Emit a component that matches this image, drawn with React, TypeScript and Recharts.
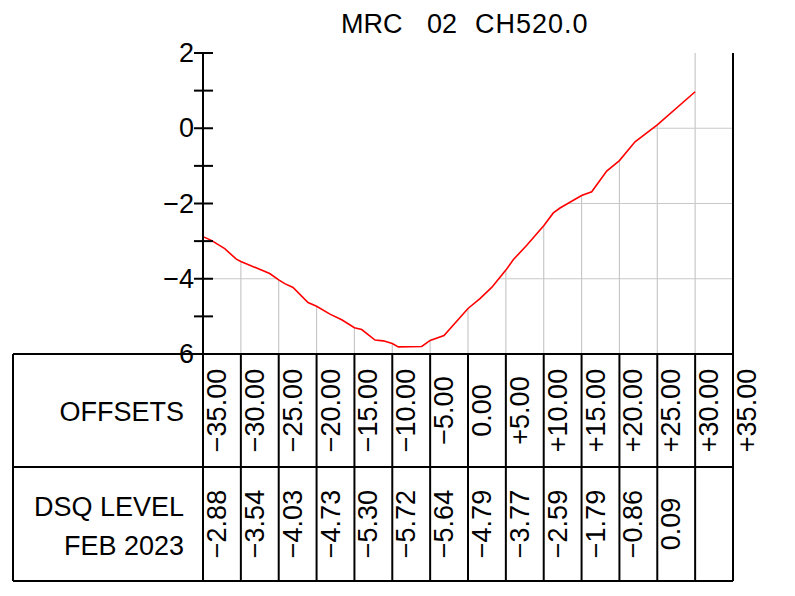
import React from 'react';
import { ComposedChart, Line, XAxis, YAxis } from 'recharts';

// ---- data ----
const titleParts = ['MRC', '02', 'CH520.0'];

const offsetTicks = [-35, -30, -25, -20, -15, -10, -5, 0, 5, 10, 15, 20, 25, 30, 35];
const offsetLabels = ['−35.00', '−30.00', '−25.00', '−20.00', '−15.00', '−10.00', '−5.00', '0.00', '+5.00', '+10.00', '+15.00', '+20.00', '+25.00', '+30.00', '+35.00'];
const dsqLabels = ['−2.88', '−3.54', '−4.03', '−4.73', '−5.30', '−5.72', '−5.64', '−4.79', '−3.77', '−2.59', '−1.79', '−0.86', '0.09'];

const profileOffsets = [-35, -33.9, -32.13, -30.6, -30, -26.19, -25, -24.2, -23.11, -21.13, -20, -18.23, -16.68, -15, -14.04, -12.28, -11.19, -10, -9.2, -6.11, -5, -3.17, 0, 1.58, 3.13, 5, 6.0, 7.76, 10, 11.27, 12.15, 15, 16.34, 18.32, 20, 22.06, 25, 30];
const profileLevels = [-2.88, -2.98, -3.2, -3.48, -3.54, -3.86, -4.03, -4.13, -4.23, -4.63, -4.73, -4.94, -5.09, -5.3, -5.35, -5.63, -5.65, -5.72, -5.81, -5.8, -5.64, -5.51, -4.79, -4.53, -4.23, -3.77, -3.49, -3.11, -2.59, -2.25, -2.12, -1.79, -1.69, -1.14, -0.86, -0.36, 0.09, 0.97];

const levelTicks = [-6, -5, -4, -3, -2, -1, 0, 1, 2];
const levelLabelValues = [-6, -4, -2, 0, 2];
const gridOffsets = [-30, -25, -20, -15, -10, -5, 0, 5, 10, 15, 20, 25];
const gridLevels = [0, -2, -4];
const profileEndOffset = 30;
const levelMin = -6;
const levelMax = 2;
const offsetMin = -35;
const offsetMax = 35;

const rowHeaders = ['OFFSETS', 'DSQ LEVEL', 'FEB 2023'];

// ---- layout ----
const W = 795;
const H = 596;
const PLOT_LEFT = 203;
const PLOT_RIGHT = 733;
const PLOT_TOP = 53;
const PLOT_BOTTOM = 354;
const ROW1_H = 113;
const ROW2_H = 114;
const TABLE_LEFT = 13;
const FONT = "'Liberation Sans', Arial, Helvetica, sans-serif";
const FS = 27;
const GRID = '#c8c8c8';

const data = profileOffsets.map((x, i) => ({ x, v: profileLevels[i] }));

// profile level at a given offset (linear between surveyed points)
const levelAt = (x: number) => {
  for (let i = 0; i < profileOffsets.length - 1; i++) {
    const a = profileOffsets[i];
    const b = profileOffsets[i + 1];
    if (x >= a && x <= b) {
      const t = (x - a) / (b - a);
      return profileLevels[i] + t * (profileLevels[i + 1] - profileLevels[i]);
    }
  }
  return profileLevels[profileLevels.length - 1];
};

// horizontal grid segments lying below the ground profile
const belowSegments = (L: number) => {
  const segs: [number, number][] = [];
  let start: number | null = profileLevels[0] > L ? profileOffsets[0] : null;
  for (let i = 0; i < profileOffsets.length - 1; i++) {
    const y0 = profileLevels[i];
    const y1 = profileLevels[i + 1];
    if ((y0 > L) !== (y1 > L)) {
      const t = (L - y0) / (y1 - y0);
      const xc = profileOffsets[i] + t * (profileOffsets[i + 1] - profileOffsets[i]);
      if (start === null) start = xc;
      else {
        segs.push([start, xc]);
        start = null;
      }
    }
  }
  if (start !== null) segs.push([start, offsetMax]);
  else segs.push([profileEndOffset, offsetMax]);
  return segs;
};

const gridSeries: { x: number; g: number }[][] = [
  ...gridOffsets.map((o) => [
    { x: o, g: levelMin },
    { x: o, g: levelAt(o) },
  ]),
  [
    { x: profileEndOffset, g: levelMin },
    { x: profileEndOffset, g: levelMax },
  ],
  ...gridLevels.flatMap((L) =>
    belowSegments(L).map(([a, b]) => [
      { x: a, g: L },
      { x: b, g: L },
    ])
  ),
];

const fmt = (v: number) => (v < 0 ? '−' + Math.abs(v) : String(v));

const LeftTick = (props: any) => {
  const { x, y, payload } = props;
  const v = payload.value;
  return (
    <g>
      <line x1={x - 9} x2={x + 10} y1={y} y2={y} stroke="#000" strokeWidth={2} />
      {levelLabelValues.includes(v) && (
        <text x={x - 9} y={y} textAnchor="end" dominantBaseline="central" fontFamily={FONT} fontSize={FS} fill="#000">
          {fmt(v)}
        </text>
      )}
    </g>
  );
};

const RightTick = (props: any) => {
  const { x, y, payload } = props;
  const v = payload.value;
  return (
    <g>
      <line x1={x - 10} x2={x + 8} y1={y} y2={y} stroke="#000" strokeWidth={2} />
      {levelLabelValues.includes(v) && (
        <text x={x + 8} y={y} textAnchor="start" dominantBaseline="central" fontFamily={FONT} fontSize={FS} fill="#000">
          {fmt(v)}
        </text>
      )}
    </g>
  );
};

const TableTick = (props: any) => {
  const { x, y, index } = props;
  const midY = y + ROW1_H;
  const botY = y + ROW1_H + ROW2_H;
  const lx = x + 14;
  const oy = y + ROW1_H / 2;
  const dy = midY + ROW2_H / 2;
  const dsq = dsqLabels[index];
  return (
    <g>
      {index === 0 && (
        <g>
          <line x1={TABLE_LEFT} x2={PLOT_RIGHT} y1={y} y2={y} stroke="#000" strokeWidth={2} />
          <line x1={TABLE_LEFT} x2={PLOT_RIGHT} y1={midY} y2={midY} stroke="#000" strokeWidth={2} />
          <line x1={TABLE_LEFT} x2={PLOT_RIGHT} y1={botY} y2={botY} stroke="#000" strokeWidth={2} />
          <line x1={TABLE_LEFT} x2={TABLE_LEFT} y1={y} y2={botY} stroke="#000" strokeWidth={2} />
          <text x={184} y={y + 67} textAnchor="end" fontFamily={FONT} fontSize={FS} fill="#000">{rowHeaders[0]}</text>
          <text x={184} y={midY + 49} textAnchor="end" fontFamily={FONT} fontSize={FS} fill="#000">{rowHeaders[1]}</text>
          <text x={184} y={midY + 88} textAnchor="end" fontFamily={FONT} fontSize={FS} fill="#000">{rowHeaders[2]}</text>
        </g>
      )}
      <line x1={x} x2={x} y1={y} y2={botY} stroke="#000" strokeWidth={2} />
      <text x={lx} y={oy} transform={`rotate(-90 ${lx} ${oy})`} textAnchor="middle" dominantBaseline="central" fontFamily={FONT} fontSize={FS} fill="#000">
        {offsetLabels[index]}
      </text>
      {dsq && (
        <text x={lx} y={dy} transform={`rotate(-90 ${lx} ${dy})`} textAnchor="middle" dominantBaseline="central" fontFamily={FONT} fontSize={FS} fill="#000">
          {dsq}
        </text>
      )}
    </g>
  );
};

export default function App() {
  return (
    <div style={{ position: 'absolute', left: 0, top: 0, width: W, height: H, background: '#fff' }}>
      <ComposedChart width={W} height={H} data={data} margin={{ top: PLOT_TOP, right: 0, bottom: 0, left: 0 }}>
        <XAxis
          dataKey="x"
          type="number"
          domain={[offsetMin, offsetMax]}
          ticks={offsetTicks}
          interval={0}
          height={H - PLOT_BOTTOM}
          axisLine={false}
          tickLine={false}
          tickSize={0}
          tickMargin={0}
          tick={<TableTick />}
          allowDuplicatedCategory={false}
        />
        <YAxis
          yAxisId={0}
          type="number"
          domain={[levelMin, levelMax]}
          ticks={levelTicks}
          interval={0}
          width={PLOT_LEFT}
          axisLine={{ stroke: '#000', strokeWidth: 2 }}
          tickLine={false}
          tickSize={0}
          tickMargin={0}
          tick={<LeftTick />}
        />
        <YAxis
          yAxisId="right"
          orientation="right"
          type="number"
          domain={[levelMin, levelMax]}
          ticks={levelTicks}
          interval={0}
          width={W - PLOT_RIGHT}
          axisLine={{ stroke: '#000', strokeWidth: 2 }}
          tickLine={false}
          tickSize={0}
          tickMargin={0}
          tick={<RightTick />}
        />
        {gridSeries.map((seg, k) => (
          <Line
            key={'grid' + k}
            yAxisId={0}
            data={seg}
            dataKey="g"
            type="linear"
            stroke={GRID}
            strokeWidth={1.2}
            dot={false}
            activeDot={false}
            isAnimationActive={false}
          />
        ))}
        <Line yAxisId={0} dataKey="v" type="linear" stroke="#ff0000" strokeWidth={1.6} dot={false} activeDot={false} isAnimationActive={false} />
      </ComposedChart>
      <svg width={W} height={50} style={{ position: 'absolute', left: 0, top: 0, pointerEvents: 'none' }}>
        <text x={341} y={33} fontFamily={FONT} fontSize={27} fill="#000">{titleParts[0]}</text>
        <text x={427} y={33} fontFamily={FONT} fontSize={27} fill="#000">{titleParts[1]}</text>
        <text x={475} y={33} fontFamily={FONT} fontSize={27} fill="#000" letterSpacing={1}>{titleParts[2]}</text>
      </svg>
    </div>
  );
}
